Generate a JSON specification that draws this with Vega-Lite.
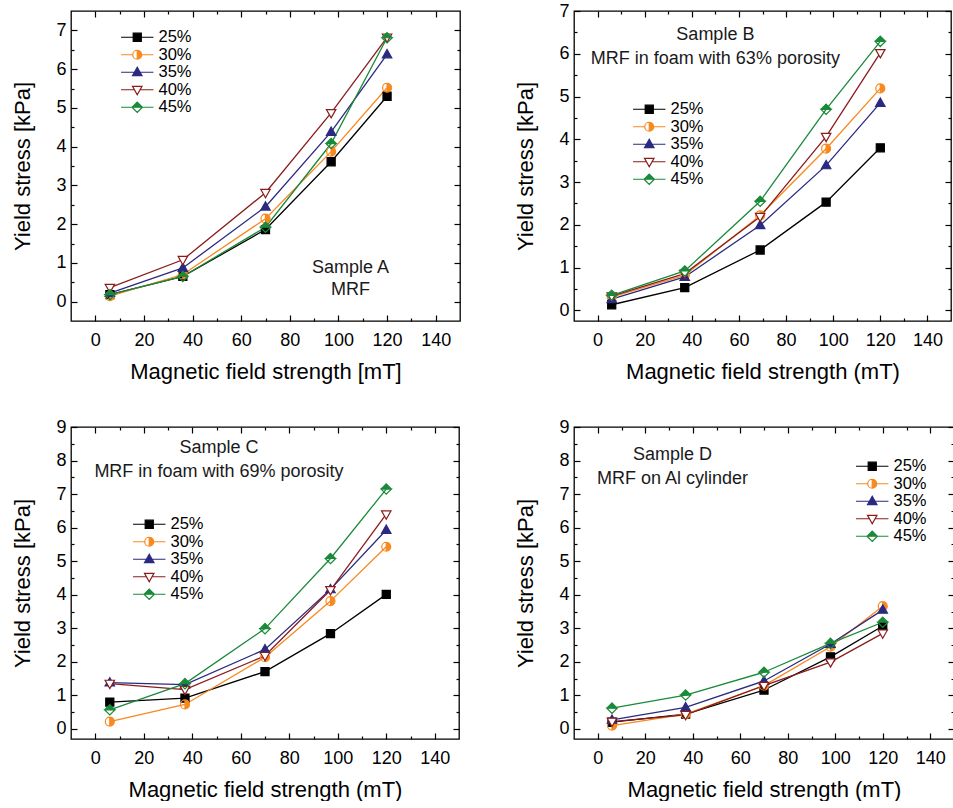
{
  "$schema": "https://vega.github.io/schema/vega-lite/v6.json",
  "padding": {"left": 11, "top": 1, "right": 0, "bottom": 0},
  "background": "white",
  "data": {"values": [
    {"panel": "A", "series": "25%", "x": 6, "y": 0.18},
    {"panel": "A", "series": "25%", "x": 36, "y": 0.65},
    {"panel": "A", "series": "25%", "x": 70, "y": 1.86},
    {"panel": "A", "series": "25%", "x": 97, "y": 3.61},
    {"panel": "A", "series": "25%", "x": 120, "y": 5.30},
    {"panel": "A", "series": "30%", "x": 6, "y": 0.14},
    {"panel": "A", "series": "30%", "x": 36, "y": 0.70},
    {"panel": "A", "series": "30%", "x": 70, "y": 2.14},
    {"panel": "A", "series": "30%", "x": 97, "y": 3.87},
    {"panel": "A", "series": "30%", "x": 120, "y": 5.52},
    {"panel": "A", "series": "35%", "x": 6, "y": 0.22},
    {"panel": "A", "series": "35%", "x": 36, "y": 0.87},
    {"panel": "A", "series": "35%", "x": 70, "y": 2.45},
    {"panel": "A", "series": "35%", "x": 97, "y": 4.38},
    {"panel": "A", "series": "35%", "x": 120, "y": 6.38},
    {"panel": "A", "series": "40%", "x": 6, "y": 0.36},
    {"panel": "A", "series": "40%", "x": 36, "y": 1.08},
    {"panel": "A", "series": "40%", "x": 70, "y": 2.81},
    {"panel": "A", "series": "40%", "x": 97, "y": 4.87},
    {"panel": "A", "series": "40%", "x": 120, "y": 6.82},
    {"panel": "A", "series": "45%", "x": 6, "y": 0.18},
    {"panel": "A", "series": "45%", "x": 36, "y": 0.65},
    {"panel": "A", "series": "45%", "x": 70, "y": 1.92},
    {"panel": "A", "series": "45%", "x": 97, "y": 4.08},
    {"panel": "A", "series": "45%", "x": 120, "y": 6.81},
    {"panel": "B", "series": "25%", "x": 6, "y": 0.13},
    {"panel": "B", "series": "25%", "x": 37, "y": 0.53},
    {"panel": "B", "series": "25%", "x": 69, "y": 1.41},
    {"panel": "B", "series": "25%", "x": 97, "y": 2.53},
    {"panel": "B", "series": "25%", "x": 120, "y": 3.80},
    {"panel": "B", "series": "30%", "x": 6, "y": 0.31},
    {"panel": "B", "series": "30%", "x": 37, "y": 0.82},
    {"panel": "B", "series": "30%", "x": 69, "y": 2.22},
    {"panel": "B", "series": "30%", "x": 97, "y": 3.78},
    {"panel": "B", "series": "30%", "x": 120, "y": 5.19},
    {"panel": "B", "series": "35%", "x": 6, "y": 0.26},
    {"panel": "B", "series": "35%", "x": 37, "y": 0.78},
    {"panel": "B", "series": "35%", "x": 69, "y": 1.99},
    {"panel": "B", "series": "35%", "x": 97, "y": 3.39},
    {"panel": "B", "series": "35%", "x": 120, "y": 4.85},
    {"panel": "B", "series": "40%", "x": 6, "y": 0.33},
    {"panel": "B", "series": "40%", "x": 37, "y": 0.86},
    {"panel": "B", "series": "40%", "x": 69, "y": 2.19},
    {"panel": "B", "series": "40%", "x": 97, "y": 4.06},
    {"panel": "B", "series": "40%", "x": 120, "y": 6.02},
    {"panel": "B", "series": "45%", "x": 6, "y": 0.35},
    {"panel": "B", "series": "45%", "x": 37, "y": 0.92},
    {"panel": "B", "series": "45%", "x": 69, "y": 2.55},
    {"panel": "B", "series": "45%", "x": 97, "y": 4.70},
    {"panel": "B", "series": "45%", "x": 120, "y": 6.29},
    {"panel": "C", "series": "25%", "x": 6, "y": 0.80},
    {"panel": "C", "series": "25%", "x": 37, "y": 0.92},
    {"panel": "C", "series": "25%", "x": 70, "y": 1.71},
    {"panel": "C", "series": "25%", "x": 97, "y": 2.84},
    {"panel": "C", "series": "25%", "x": 120, "y": 4.01},
    {"panel": "C", "series": "30%", "x": 6, "y": 0.22},
    {"panel": "C", "series": "30%", "x": 37, "y": 0.73},
    {"panel": "C", "series": "30%", "x": 70, "y": 2.14},
    {"panel": "C", "series": "30%", "x": 97, "y": 3.81},
    {"panel": "C", "series": "30%", "x": 120, "y": 5.43},
    {"panel": "C", "series": "35%", "x": 6, "y": 1.38},
    {"panel": "C", "series": "35%", "x": 37, "y": 1.32},
    {"panel": "C", "series": "35%", "x": 70, "y": 2.37},
    {"panel": "C", "series": "35%", "x": 97, "y": 4.16},
    {"panel": "C", "series": "35%", "x": 120, "y": 5.93},
    {"panel": "C", "series": "40%", "x": 6, "y": 1.35},
    {"panel": "C", "series": "40%", "x": 37, "y": 1.17},
    {"panel": "C", "series": "40%", "x": 70, "y": 2.18},
    {"panel": "C", "series": "40%", "x": 97, "y": 4.14},
    {"panel": "C", "series": "40%", "x": 120, "y": 6.40},
    {"panel": "C", "series": "45%", "x": 6, "y": 0.57},
    {"panel": "C", "series": "45%", "x": 37, "y": 1.35},
    {"panel": "C", "series": "45%", "x": 70, "y": 2.99},
    {"panel": "C", "series": "45%", "x": 97, "y": 5.08},
    {"panel": "C", "series": "45%", "x": 120, "y": 7.15},
    {"panel": "D", "series": "25%", "x": 6, "y": 0.20},
    {"panel": "D", "series": "25%", "x": 37, "y": 0.44},
    {"panel": "D", "series": "25%", "x": 70, "y": 1.16},
    {"panel": "D", "series": "25%", "x": 98, "y": 2.15},
    {"panel": "D", "series": "25%", "x": 120, "y": 3.07},
    {"panel": "D", "series": "30%", "x": 6, "y": 0.10},
    {"panel": "D", "series": "30%", "x": 37, "y": 0.44},
    {"panel": "D", "series": "30%", "x": 70, "y": 1.29},
    {"panel": "D", "series": "30%", "x": 98, "y": 2.45},
    {"panel": "D", "series": "30%", "x": 120, "y": 3.66},
    {"panel": "D", "series": "35%", "x": 6, "y": 0.27},
    {"panel": "D", "series": "35%", "x": 37, "y": 0.64},
    {"panel": "D", "series": "35%", "x": 70, "y": 1.43},
    {"panel": "D", "series": "35%", "x": 98, "y": 2.53},
    {"panel": "D", "series": "35%", "x": 120, "y": 3.55},
    {"panel": "D", "series": "40%", "x": 6, "y": 0.22},
    {"panel": "D", "series": "40%", "x": 37, "y": 0.42},
    {"panel": "D", "series": "40%", "x": 70, "y": 1.29},
    {"panel": "D", "series": "40%", "x": 98, "y": 1.99},
    {"panel": "D", "series": "40%", "x": 120, "y": 2.85},
    {"panel": "D", "series": "45%", "x": 6, "y": 0.62},
    {"panel": "D", "series": "45%", "x": 37, "y": 1.01},
    {"panel": "D", "series": "45%", "x": 70, "y": 1.69},
    {"panel": "D", "series": "45%", "x": 98, "y": 2.55},
    {"panel": "D", "series": "45%", "x": 120, "y": 3.18}
  ]},
  "columns": 2,
  "spacing": {"row": 34, "column": 52},
  "concat": [
    {
      "width": 389, "height": 310,
      "transform": [{"filter": "datum.panel === 'A'"}],
      "layer": [
        {
          "mark": {"type": "line", "strokeWidth": 1.3},
          "encoding": {
            "x": {"field": "x", "type": "quantitative", "scale": {"domain": [-10, 150], "nice": false, "zero": false},
                  "axis": {"orient": "bottom", "values": [0, 20, 40, 60, 80, 100, 120, 140], "tickSize": -6, "labelPadding": 16, "title": "Magnetic field strength [mT]"}},
            "y": {"field": "y", "type": "quantitative", "scale": {"domain": [-0.5, 7.5], "nice": false, "zero": false},
                  "axis": {"orient": "left", "values": [0, 1, 2, 3, 4, 5, 6, 7], "tickSize": -6, "labelPadding": 11, "title": "Yield stress [kPa]"}},
            "stroke": {"field": "series", "type": "nominal", "legend": null,
                       "scale": {"domain": ["25%", "30%", "35%", "40%", "45%"], "range": ["#000000", "#F7891F", "#2A2A80", "#8B1C1C", "#1A8A3A"]}}
          }
        },
        {
          "mark": {"type": "point", "size": 81, "strokeWidth": 1.2, "opacity": 1},
          "encoding": {
            "x": {"field": "x", "type": "quantitative", "axis": {"orient": "top", "values": [0, 20, 40, 60, 80, 100, 120, 140], "tickSize": -6, "labels": false, "title": null}},
            "y": {"field": "y", "type": "quantitative", "axis": {"orient": "right", "values": [0, 1, 2, 3, 4, 5, 6, 7], "tickSize": -6, "labels": false, "title": null}},
            "shape": {"field": "series", "type": "nominal", "legend": null,
                      "scale": {"domain": ["25%", "30%", "35%", "40%", "45%"], "range": ["M-0.9,-0.9H0.9V0.9H-0.9Z", "M0,-1A1,1,0,1,1,0,1A1,1,0,1,1,0,-1ZM0,-1A1,1,0,0,0,0,1Z", "M0,-1.1L1.05,0.75H-1.05Z", "M0,1.1L1.05,-0.75H-1.05Z", "M0,-1.15L1.15,0L0,1.15L-1.15,0ZM-1.15,0L0,1.15L1.15,0Z"]}},
            "stroke": {"field": "series", "type": "nominal", "legend": null,
                       "scale": {"domain": ["25%", "30%", "35%", "40%", "45%"], "range": ["#000000", "#F7891F", "#2A2A80", "#8B1C1C", "#1A8A3A"]}},
            "fill": {"field": "series", "type": "nominal", "legend": null,
                     "scale": {"domain": ["25%", "30%", "35%", "40%", "45%"], "range": ["#000000", "#F7891F", "#2A2A80", "#FFFFFF", "#1A8A3A"]}}
          }
        },
        {
          "transform": [{"filter": "datum.x < -1000"}],
          "mark": {"type": "point", "size": 81, "strokeWidth": 1.2, "opacity": 1},
          "encoding": {
            "x": {"field": "x", "type": "quantitative", "axis": {"orient": "bottom", "values": [10, 30, 50, 70, 90, 110, 130], "tickSize": -3, "labels": false, "title": null}},
            "y": {"field": "y", "type": "quantitative", "axis": {"orient": "left", "values": [0.5, 1.5, 2.5, 3.5, 4.5, 5.5, 6.5], "tickSize": -3, "labels": false, "title": null}},
            "shape": {"field": "series", "type": "nominal",
                      "scale": {"domain": ["25%", "30%", "35%", "40%", "45%"], "range": ["M-3.6,0H3.6M-0.9,-0.9H0.9V0.9H-0.9Z", "M-3.6,0H-1M1,0H3.6M0,-1A1,1,0,1,1,0,1A1,1,0,1,1,0,-1ZM0,-1A1,1,0,0,0,0,1Z", "M-3.6,0H3.6M0,-1.1L1.05,0.75H-1.05Z", "M-3.6,0H-0.62M0.62,0H3.6M0,1.1L1.05,-0.75H-1.05Z", "M-3.6,0H3.6M0,-1.15L1.15,0L0,1.15L-1.15,0ZM-1.15,0L0,1.15L1.15,0Z"]},
                      "legend": {"orient": "none", "legendX": 58, "legendY": 18}},
            "stroke": {"field": "series", "type": "nominal",
                       "scale": {"domain": ["25%", "30%", "35%", "40%", "45%"], "range": ["#000000", "#F7891F", "#2A2A80", "#8B1C1C", "#1A8A3A"]},
                       "legend": {"orient": "none", "legendX": 58, "legendY": 18}},
            "fill": {"field": "series", "type": "nominal",
                     "scale": {"domain": ["25%", "30%", "35%", "40%", "45%"], "range": ["#000000", "#F7891F", "#2A2A80", "#FFFFFF", "#1A8A3A"]},
                     "legend": {"orient": "none", "legendX": 58, "legendY": 18}}
          }
        },
        {
          "data": {"values": [{"label": "Sample A"}]},
          "mark": {"type": "text", "fontSize": 18, "align": "center", "baseline": "middle", "lineHeight": 22, "color": "#1a1a1a"},
          "encoding": {
            "x": {"datum": 105, "type": "quantitative", "axis": {"orient": "top", "values": [10, 30, 50, 70, 90, 110, 130], "tickSize": -3, "labels": false, "title": null}},
            "y": {"datum": 0.88, "type": "quantitative", "axis": {"orient": "right", "values": [0.5, 1.5, 2.5, 3.5, 4.5, 5.5, 6.5], "tickSize": -3, "labels": false, "title": null}},
            "text": {"value": ["Sample A", "MRF"]}
          }
        }
      ],
      "resolve": {"scale": {"shape": "independent", "stroke": "independent", "fill": "independent"}, "axis": {"x": "independent", "y": "independent"}}
    },
    {
      "width": 377, "height": 310,
      "transform": [{"filter": "datum.panel === 'B'"}],
      "layer": [
        {
          "mark": {"type": "line", "strokeWidth": 1.3},
          "encoding": {
            "x": {"field": "x", "type": "quantitative", "scale": {"domain": [-10, 150], "nice": false, "zero": false},
                  "axis": {"orient": "bottom", "values": [0, 20, 40, 60, 80, 100, 120, 140], "tickSize": -6, "labelPadding": 16, "title": "Magnetic field strength (mT)"}},
            "y": {"field": "y", "type": "quantitative", "scale": {"domain": [-0.25, 7], "nice": false, "zero": false},
                  "axis": {"orient": "left", "values": [0, 1, 2, 3, 4, 5, 6, 7], "tickSize": -6, "labelPadding": 11, "title": "Yield stress [kPa]"}},
            "stroke": {"field": "series", "type": "nominal", "legend": null,
                       "scale": {"domain": ["25%", "30%", "35%", "40%", "45%"], "range": ["#000000", "#F7891F", "#2A2A80", "#8B1C1C", "#1A8A3A"]}}
          }
        },
        {
          "mark": {"type": "point", "size": 81, "strokeWidth": 1.2, "opacity": 1},
          "encoding": {
            "x": {"field": "x", "type": "quantitative", "axis": {"orient": "top", "values": [0, 20, 40, 60, 80, 100, 120, 140], "tickSize": -6, "labels": false, "title": null}},
            "y": {"field": "y", "type": "quantitative", "axis": {"orient": "right", "values": [0, 1, 2, 3, 4, 5, 6, 7], "tickSize": -6, "labels": false, "title": null}},
            "shape": {"field": "series", "type": "nominal", "legend": null,
                      "scale": {"domain": ["25%", "30%", "35%", "40%", "45%"], "range": ["M-0.9,-0.9H0.9V0.9H-0.9Z", "M0,-1A1,1,0,1,1,0,1A1,1,0,1,1,0,-1ZM0,-1A1,1,0,0,0,0,1Z", "M0,-1.1L1.05,0.75H-1.05Z", "M0,1.1L1.05,-0.75H-1.05Z", "M0,-1.15L1.15,0L0,1.15L-1.15,0ZM-1.15,0L0,1.15L1.15,0Z"]}},
            "stroke": {"field": "series", "type": "nominal", "legend": null,
                       "scale": {"domain": ["25%", "30%", "35%", "40%", "45%"], "range": ["#000000", "#F7891F", "#2A2A80", "#8B1C1C", "#1A8A3A"]}},
            "fill": {"field": "series", "type": "nominal", "legend": null,
                     "scale": {"domain": ["25%", "30%", "35%", "40%", "45%"], "range": ["#000000", "#F7891F", "#2A2A80", "#FFFFFF", "#1A8A3A"]}}
          }
        },
        {
          "transform": [{"filter": "datum.x < -1000"}],
          "mark": {"type": "point", "size": 81, "strokeWidth": 1.2, "opacity": 1},
          "encoding": {
            "x": {"field": "x", "type": "quantitative", "axis": {"orient": "bottom", "values": [10, 30, 50, 70, 90, 110, 130], "tickSize": -3, "labels": false, "title": null}},
            "y": {"field": "y", "type": "quantitative", "axis": {"orient": "left", "values": [0.5, 1.5, 2.5, 3.5, 4.5, 5.5, 6.5], "tickSize": -3, "labels": false, "title": null}},
            "shape": {"field": "series", "type": "nominal",
                      "scale": {"domain": ["25%", "30%", "35%", "40%", "45%"], "range": ["M-3.6,0H3.6M-0.9,-0.9H0.9V0.9H-0.9Z", "M-3.6,0H-1M1,0H3.6M0,-1A1,1,0,1,1,0,1A1,1,0,1,1,0,-1ZM0,-1A1,1,0,0,0,0,1Z", "M-3.6,0H3.6M0,-1.1L1.05,0.75H-1.05Z", "M-3.6,0H-0.62M0.62,0H3.6M0,1.1L1.05,-0.75H-1.05Z", "M-3.6,0H3.6M0,-1.15L1.15,0L0,1.15L-1.15,0ZM-1.15,0L0,1.15L1.15,0Z"]},
                      "legend": {"orient": "none", "legendX": 67, "legendY": 90}},
            "stroke": {"field": "series", "type": "nominal",
                       "scale": {"domain": ["25%", "30%", "35%", "40%", "45%"], "range": ["#000000", "#F7891F", "#2A2A80", "#8B1C1C", "#1A8A3A"]},
                       "legend": {"orient": "none", "legendX": 67, "legendY": 90}},
            "fill": {"field": "series", "type": "nominal",
                     "scale": {"domain": ["25%", "30%", "35%", "40%", "45%"], "range": ["#000000", "#F7891F", "#2A2A80", "#FFFFFF", "#1A8A3A"]},
                     "legend": {"orient": "none", "legendX": 67, "legendY": 90}}
          }
        },
        {
          "data": {"values": [{"label": "Sample B"}]},
          "mark": {"type": "text", "fontSize": 18, "align": "center", "baseline": "middle", "lineHeight": 24, "color": "#1a1a1a"},
          "encoding": {
            "x": {"datum": 50, "type": "quantitative", "axis": {"orient": "top", "values": [10, 30, 50, 70, 90, 110, 130], "tickSize": -3, "labels": false, "title": null}},
            "y": {"datum": 6.45, "type": "quantitative", "axis": {"orient": "right", "values": [0.5, 1.5, 2.5, 3.5, 4.5, 5.5, 6.5], "tickSize": -3, "labels": false, "title": null}},
            "text": {"value": ["Sample B", "MRF in foam with 63% porosity"]}
          }
        }
      ],
      "resolve": {"scale": {"shape": "independent", "stroke": "independent", "fill": "independent"}, "axis": {"x": "independent", "y": "independent"}}
    },
    {
      "width": 388, "height": 312,
      "transform": [{"filter": "datum.panel === 'C'"}],
      "layer": [
        {
          "mark": {"type": "line", "strokeWidth": 1.3},
          "encoding": {
            "x": {"field": "x", "type": "quantitative", "scale": {"domain": [-10, 150], "nice": false, "zero": false},
                  "axis": {"orient": "bottom", "values": [0, 20, 40, 60, 80, 100, 120, 140], "tickSize": -6, "labelPadding": 16, "title": "Magnetic field strength (mT)"}},
            "y": {"field": "y", "type": "quantitative", "scale": {"domain": [-0.3, 9], "nice": false, "zero": false},
                  "axis": {"orient": "left", "values": [0, 1, 2, 3, 4, 5, 6, 7, 8, 9], "tickSize": -6, "labelPadding": 11, "title": "Yield stress [kPa]"}},
            "stroke": {"field": "series", "type": "nominal", "legend": null,
                       "scale": {"domain": ["25%", "30%", "35%", "40%", "45%"], "range": ["#000000", "#F7891F", "#2A2A80", "#8B1C1C", "#1A8A3A"]}}
          }
        },
        {
          "mark": {"type": "point", "size": 81, "strokeWidth": 1.2, "opacity": 1},
          "encoding": {
            "x": {"field": "x", "type": "quantitative", "axis": {"orient": "top", "values": [0, 20, 40, 60, 80, 100, 120, 140], "tickSize": -6, "labels": false, "title": null}},
            "y": {"field": "y", "type": "quantitative", "axis": {"orient": "right", "values": [0, 1, 2, 3, 4, 5, 6, 7, 8, 9], "tickSize": -6, "labels": false, "title": null}},
            "shape": {"field": "series", "type": "nominal", "legend": null,
                      "scale": {"domain": ["25%", "30%", "35%", "40%", "45%"], "range": ["M-0.9,-0.9H0.9V0.9H-0.9Z", "M0,-1A1,1,0,1,1,0,1A1,1,0,1,1,0,-1ZM0,-1A1,1,0,0,0,0,1Z", "M0,-1.1L1.05,0.75H-1.05Z", "M0,1.1L1.05,-0.75H-1.05Z", "M0,-1.15L1.15,0L0,1.15L-1.15,0ZM-1.15,0L0,1.15L1.15,0Z"]}},
            "stroke": {"field": "series", "type": "nominal", "legend": null,
                       "scale": {"domain": ["25%", "30%", "35%", "40%", "45%"], "range": ["#000000", "#F7891F", "#2A2A80", "#8B1C1C", "#1A8A3A"]}},
            "fill": {"field": "series", "type": "nominal", "legend": null,
                     "scale": {"domain": ["25%", "30%", "35%", "40%", "45%"], "range": ["#000000", "#F7891F", "#2A2A80", "#FFFFFF", "#1A8A3A"]}}
          }
        },
        {
          "transform": [{"filter": "datum.x < -1000"}],
          "mark": {"type": "point", "size": 81, "strokeWidth": 1.2, "opacity": 1},
          "encoding": {
            "x": {"field": "x", "type": "quantitative", "axis": {"orient": "bottom", "values": [10, 30, 50, 70, 90, 110, 130], "tickSize": -3, "labels": false, "title": null}},
            "y": {"field": "y", "type": "quantitative", "axis": {"orient": "left", "values": [0.5, 1.5, 2.5, 3.5, 4.5, 5.5, 6.5, 7.5, 8.5], "tickSize": -3, "labels": false, "title": null}},
            "shape": {"field": "series", "type": "nominal",
                      "scale": {"domain": ["25%", "30%", "35%", "40%", "45%"], "range": ["M-3.6,0H3.6M-0.9,-0.9H0.9V0.9H-0.9Z", "M-3.6,0H-1M1,0H3.6M0,-1A1,1,0,1,1,0,1A1,1,0,1,1,0,-1ZM0,-1A1,1,0,0,0,0,1Z", "M-3.6,0H3.6M0,-1.1L1.05,0.75H-1.05Z", "M-3.6,0H-0.62M0.62,0H3.6M0,1.1L1.05,-0.75H-1.05Z", "M-3.6,0H3.6M0,-1.15L1.15,0L0,1.15L-1.15,0ZM-1.15,0L0,1.15L1.15,0Z"]},
                      "legend": {"orient": "none", "legendX": 70, "legendY": 89}},
            "stroke": {"field": "series", "type": "nominal",
                       "scale": {"domain": ["25%", "30%", "35%", "40%", "45%"], "range": ["#000000", "#F7891F", "#2A2A80", "#8B1C1C", "#1A8A3A"]},
                       "legend": {"orient": "none", "legendX": 70, "legendY": 89}},
            "fill": {"field": "series", "type": "nominal",
                     "scale": {"domain": ["25%", "30%", "35%", "40%", "45%"], "range": ["#000000", "#F7891F", "#2A2A80", "#FFFFFF", "#1A8A3A"]},
                     "legend": {"orient": "none", "legendX": 70, "legendY": 89}}
          }
        },
        {
          "data": {"values": [{"label": "Sample C"}]},
          "mark": {"type": "text", "fontSize": 18, "align": "center", "baseline": "middle", "lineHeight": 24, "color": "#1a1a1a"},
          "encoding": {
            "x": {"datum": 51, "type": "quantitative", "axis": {"orient": "top", "values": [10, 30, 50, 70, 90, 110, 130], "tickSize": -3, "labels": false, "title": null}},
            "y": {"datum": 8.36, "type": "quantitative", "axis": {"orient": "right", "values": [0.5, 1.5, 2.5, 3.5, 4.5, 5.5, 6.5, 7.5, 8.5], "tickSize": -3, "labels": false, "title": null}},
            "text": {"value": ["Sample C", "MRF in foam with 69% porosity"]}
          }
        }
      ],
      "resolve": {"scale": {"shape": "independent", "stroke": "independent", "fill": "independent"}, "axis": {"x": "independent", "y": "independent"}}
    },
    {
      "width": 380, "height": 312,
      "transform": [{"filter": "datum.panel === 'D'"}],
      "layer": [
        {
          "mark": {"type": "line", "strokeWidth": 1.3},
          "encoding": {
            "x": {"field": "x", "type": "quantitative", "scale": {"domain": [-10, 150], "nice": false, "zero": false},
                  "axis": {"orient": "bottom", "values": [0, 20, 40, 60, 80, 100, 120, 140], "tickSize": -6, "labelPadding": 16, "title": "Magnetic field strength (mT)"}},
            "y": {"field": "y", "type": "quantitative", "scale": {"domain": [-0.3, 9], "nice": false, "zero": false},
                  "axis": {"orient": "left", "values": [0, 1, 2, 3, 4, 5, 6, 7, 8, 9], "tickSize": -6, "labelPadding": 11, "title": "Yield stress [kPa]"}},
            "stroke": {"field": "series", "type": "nominal", "legend": null,
                       "scale": {"domain": ["25%", "30%", "35%", "40%", "45%"], "range": ["#000000", "#F7891F", "#2A2A80", "#8B1C1C", "#1A8A3A"]}}
          }
        },
        {
          "mark": {"type": "point", "size": 81, "strokeWidth": 1.2, "opacity": 1},
          "encoding": {
            "x": {"field": "x", "type": "quantitative", "axis": {"orient": "top", "values": [0, 20, 40, 60, 80, 100, 120, 140], "tickSize": -6, "labels": false, "title": null}},
            "y": {"field": "y", "type": "quantitative", "axis": {"orient": "right", "values": [0, 1, 2, 3, 4, 5, 6, 7, 8, 9], "tickSize": -6, "labels": false, "title": null}},
            "shape": {"field": "series", "type": "nominal", "legend": null,
                      "scale": {"domain": ["25%", "30%", "35%", "40%", "45%"], "range": ["M-0.9,-0.9H0.9V0.9H-0.9Z", "M0,-1A1,1,0,1,1,0,1A1,1,0,1,1,0,-1ZM0,-1A1,1,0,0,0,0,1Z", "M0,-1.1L1.05,0.75H-1.05Z", "M0,1.1L1.05,-0.75H-1.05Z", "M0,-1.15L1.15,0L0,1.15L-1.15,0ZM-1.15,0L0,1.15L1.15,0Z"]}},
            "stroke": {"field": "series", "type": "nominal", "legend": null,
                       "scale": {"domain": ["25%", "30%", "35%", "40%", "45%"], "range": ["#000000", "#F7891F", "#2A2A80", "#8B1C1C", "#1A8A3A"]}},
            "fill": {"field": "series", "type": "nominal", "legend": null,
                     "scale": {"domain": ["25%", "30%", "35%", "40%", "45%"], "range": ["#000000", "#F7891F", "#2A2A80", "#FFFFFF", "#1A8A3A"]}}
          }
        },
        {
          "transform": [{"filter": "datum.x < -1000"}],
          "mark": {"type": "point", "size": 81, "strokeWidth": 1.2, "opacity": 1},
          "encoding": {
            "x": {"field": "x", "type": "quantitative", "axis": {"orient": "bottom", "values": [10, 30, 50, 70, 90, 110, 130], "tickSize": -3, "labels": false, "title": null}},
            "y": {"field": "y", "type": "quantitative", "axis": {"orient": "left", "values": [0.5, 1.5, 2.5, 3.5, 4.5, 5.5, 6.5, 7.5, 8.5], "tickSize": -3, "labels": false, "title": null}},
            "shape": {"field": "series", "type": "nominal",
                      "scale": {"domain": ["25%", "30%", "35%", "40%", "45%"], "range": ["M-3.6,0H3.6M-0.9,-0.9H0.9V0.9H-0.9Z", "M-3.6,0H-1M1,0H3.6M0,-1A1,1,0,1,1,0,1A1,1,0,1,1,0,-1ZM0,-1A1,1,0,0,0,0,1Z", "M-3.6,0H3.6M0,-1.1L1.05,0.75H-1.05Z", "M-3.6,0H-0.62M0.62,0H3.6M0,1.1L1.05,-0.75H-1.05Z", "M-3.6,0H3.6M0,-1.15L1.15,0L0,1.15L-1.15,0ZM-1.15,0L0,1.15L1.15,0Z"]},
                      "legend": {"orient": "none", "legendX": 290, "legendY": 31}},
            "stroke": {"field": "series", "type": "nominal",
                       "scale": {"domain": ["25%", "30%", "35%", "40%", "45%"], "range": ["#000000", "#F7891F", "#2A2A80", "#8B1C1C", "#1A8A3A"]},
                       "legend": {"orient": "none", "legendX": 290, "legendY": 31}},
            "fill": {"field": "series", "type": "nominal",
                     "scale": {"domain": ["25%", "30%", "35%", "40%", "45%"], "range": ["#000000", "#F7891F", "#2A2A80", "#FFFFFF", "#1A8A3A"]},
                     "legend": {"orient": "none", "legendX": 290, "legendY": 31}}
          }
        },
        {
          "data": {"values": [{"label": "Sample D"}]},
          "mark": {"type": "text", "fontSize": 18, "align": "center", "baseline": "middle", "lineHeight": 24, "color": "#1a1a1a"},
          "encoding": {
            "x": {"datum": 31.5, "type": "quantitative", "axis": {"orient": "top", "values": [10, 30, 50, 70, 90, 110, 130], "tickSize": -3, "labels": false, "title": null}},
            "y": {"datum": 8.17, "type": "quantitative", "axis": {"orient": "right", "values": [0.5, 1.5, 2.5, 3.5, 4.5, 5.5, 6.5, 7.5, 8.5], "tickSize": -3, "labels": false, "title": null}},
            "text": {"value": ["Sample D", "MRF on Al cylinder"]}
          }
        }
      ],
      "resolve": {"scale": {"shape": "independent", "stroke": "independent", "fill": "independent"}, "axis": {"x": "independent", "y": "independent"}}
    }
  ],
  "config": {
    "font": "Liberation Sans",
    "view": {"stroke": "#000000", "strokeWidth": 1.3},
    "axis": {"domain": false, "grid": false, "tickColor": "#000000", "tickWidth": 1.2, "labelColor": "#000000", "labelFont": "Liberation Sans", "titleColor": "#000000", "titleFont": "Liberation Sans", "titleFontWeight": "normal", "titleFontSize": 22},
    "axisX": {"labelFontSize": 18, "titlePadding": 12},
    "axisY": {"labelFontSize": 18, "titlePadding": 21},
    "legend": {"title": null, "symbolSize": 81, "symbolStrokeWidth": 1.2, "labelFontSize": 16.5, "labelOffset": 13, "labelColor": "#000000", "labelFont": "Liberation Sans", "rowPadding": 0.5, "padding": 0, "symbolOpacity": 1}
  }
}
